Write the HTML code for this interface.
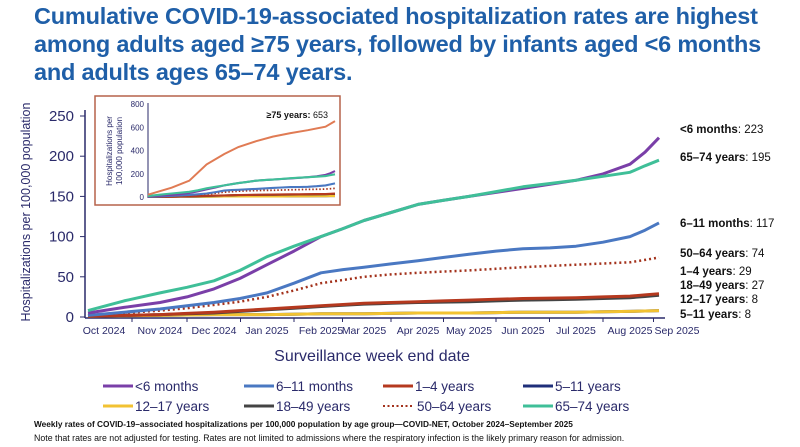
<!DOCTYPE html>
<html><head><meta charset="utf-8"><style>
body{margin:0;width:800px;height:447px;background:#fff;overflow:hidden;font-family:"Liberation Sans",sans-serif}
h1{position:absolute;left:34px;top:2px;margin:0;font-size:23.5px;line-height:28px;color:#1f5fa8;font-weight:bold;letter-spacing:-0.2px}
svg{position:absolute;left:0;top:0}
</style></head><body>
<h1>Cumulative COVID-19-associated hospitalization rates are highest among adults aged ≥75 years, followed by infants aged &lt;6 months and adults ages 65–74 years.</h1>
<svg id="s" width="800" height="447" font-family="Liberation Sans, sans-serif"></svg>
<script>
const s=document.getElementById('s');let h='';
const y0=317,ky=0.804;
const X=[88,124,160,187,214,240,267,294,321,343,364,391,418,443,469,496,523,550,576,603,630,645,659];
const series=[
['#1f2f7a',[1,1.5,2,2.5,3,3,3,3.5,4,4,4,4.5,5,5,5,5.5,6,6,6,6.5,7,7.5,8],3,0],
['#f2c232',[1,1.5,2,2.5,3,3,3,3.5,4,4,4,4.5,5,5,5,5.5,6,6,6,6.5,7,7.5,8],3,0],
['#444',[1,2,3,4,5,7,9,11,13,14.5,16,17,18,18.5,19,20,21,21.5,22,23,24,25.5,27],3,0],
['#b5391f',[1,2,3,4.5,6,8,10,12,14,15.5,17,18,19,20,21,22,23,23.5,24,25,26,27.5,29],3,0],
['#a3321c',[2,5,8,11,15,19,25,33,42,46,50,53,55,56.5,58,60,62,63.5,65,66.5,68,71,74],2.5,1],
['#4a78c2',[2,6,10,14,18,23,30,42,55,59,62,66,70,74,78,82,85,86,88,93,100,108,117],3,0],
['#7a3fa8',[5,12,18,25,35,48,65,82,100,110,120,130,140,145,150,155,160,165,170,178,190,205,223],3,0],
['#3fbf98',[8,20,30,37,45,58,75,88,100,110,120,130,140,145,150,156,162,166,170,175,180,188,195],3,0]];
h+=`<line x1="85" y1="110" x2="85" y2="318" stroke="#2a2a6a" stroke-width="1.5"/><line x1="85" y1="318" x2="665" y2="318" stroke="#2a2a6a" stroke-width="1.5"/>`;
[0,50,100,150,200,250].forEach(v=>{const y=y0-v*ky;h+=`<line x1="80" y1="${y}" x2="85" y2="${y}" stroke="#2a2a6a"/><text x="74" y="${y+5}" text-anchor="end" font-size="15" fill="#2a2a6a">${v}</text>`});
const mon=['Oct 2024','Nov 2024','Dec 2024','Jan 2025','Feb 2025','Mar 2025','Apr 2025','May 2025','Jun 2025','Jul 2025','Aug 2025','Sep 2025'];
const lx=[104,160,214,267,321,364,418,469,523,576,630,677];
mon.forEach((m,i)=>{h+=`<text x="${lx[i]}" y="334" text-anchor="middle" font-size="10.5" fill="#2a2a6a">${m}</text>`;if(i>0)h+=`<line x1="${(lx[i]+lx[i-1])/2}" y1="318" x2="${(lx[i]+lx[i-1])/2}" y2="322" stroke="#2a2a6a"/>`});
h+=`<text transform="translate(30,212) rotate(-90)" text-anchor="middle" font-size="12.5" fill="#2a2a6a">Hospitalizations per 100,000 population</text>`;
h+=`<text x="372" y="361" text-anchor="middle" font-size="16" fill="#2a2a6a">Surveillance week end date</text>`;
function pts(xs,vs,yb,k){return vs.map((v,i)=>xs[i].toFixed(1)+','+(yb-v*k).toFixed(1)).join(' ')}
series.forEach(([c,v,w,d])=>{h+=`<polyline points="${pts(X,v,y0,ky)}" fill="none" stroke="${c}" stroke-width="${w}" ${d?'stroke-dasharray="2 3"':''} stroke-linejoin="round"/>`});
[['&lt;6 months',': 223',133],['65–74 years',': 195',161],['6–11 months',': 117',227],['50–64 years',': 74',257],['1–4 years',': 29',275],['18–49 years',': 27',289],['12–17 years',': 8',303],['5–11 years',': 8',318]].forEach(([a,b,y])=>{h+=`<text x="680" y="${y}" font-size="11.5" fill="#111"><tspan font-weight="bold">${a}</tspan>${b}</text>`});
h+=`<rect x="95" y="96" width="245" height="109" fill="#fff" stroke="#b5624a" stroke-width="1.5"/>`;
const iy0=197,iky=93/800,IX=X.map(x=>148+(x-88)*(187/571));
h+=`<line x1="148" y1="103" x2="148" y2="198" stroke="#2a2a6a"/>`;
[0,200,400,600,800].forEach(v=>{const y=iy0-v*iky;h+=`<text x="144" y="${y+3}" text-anchor="end" font-size="8" fill="#2a2a6a">${v}</text>`});
h+=`<text transform="translate(112,151) rotate(-90)" text-anchor="middle" font-size="8" fill="#2a2a6a">Hospitalizations per</text><text transform="translate(122,151) rotate(-90)" text-anchor="middle" font-size="8" fill="#2a2a6a">100,000 population</text>`;
series.forEach(([c,v,w,d])=>{h+=`<polyline points="${pts(IX,v,iy0,iky)}" fill="none" stroke="${c}" stroke-width="${w*0.7}" ${d?'stroke-dasharray="1.5 2"':''}/>`});
const X12=[88,160,214,267,321,364,418,469,523,576,630,659].map(x=>148+(x-88)*(187/571));
h+=`<polyline points="${pts(X12,[20,80,140,280,370,430,480,520,550,575,605,653],iy0,iky)}" fill="none" stroke="#e07b54" stroke-width="2"/>`;
h+=`<text x="328" y="118" text-anchor="end" font-size="9" fill="#111"><tspan font-weight="bold">≥75 years:</tspan> 653</text>`;
const lg=[['&lt;6 months','#7a3fa8',0],['6–11 months','#4a78c2',0],['1–4 years','#b5391f',0],['5–11 years','#1f2f7a',0],['12–17 years','#f2c232',0],['18–49 years','#444',0],['50–64 years','#a3321c',1],['65–74 years','#3fbf98',0]];
const lgx=[103,244,383,523];
lg.forEach(([t,c,d],i)=>{const x=lgx[i%4],y=i<4?386:406;h+=`<line x1="${x}" y1="${y}" x2="${x+30}" y2="${y}" stroke="${c}" stroke-width="${d?2:3}" ${d?'stroke-dasharray="2 2.5"':''}/><text x="${x+(d?34:32)}" y="${y+5}" font-size="13.5" fill="#2a2a6a">${t}</text>`});
h+=`<text x="34" y="427" font-size="8.3" font-weight="bold" fill="#111">Weekly rates of COVID-19–associated hospitalizations per 100,000 population by age group—COVID-NET, October 2024–September 2025</text>`;
h+=`<text x="34" y="441" font-size="8.8" fill="#111">Note that rates are not adjusted for testing. Rates are not limited to admissions where the respiratory infection is the likely primary reason for admission.</text>`;
s.innerHTML=h;
</script>
</body></html>
